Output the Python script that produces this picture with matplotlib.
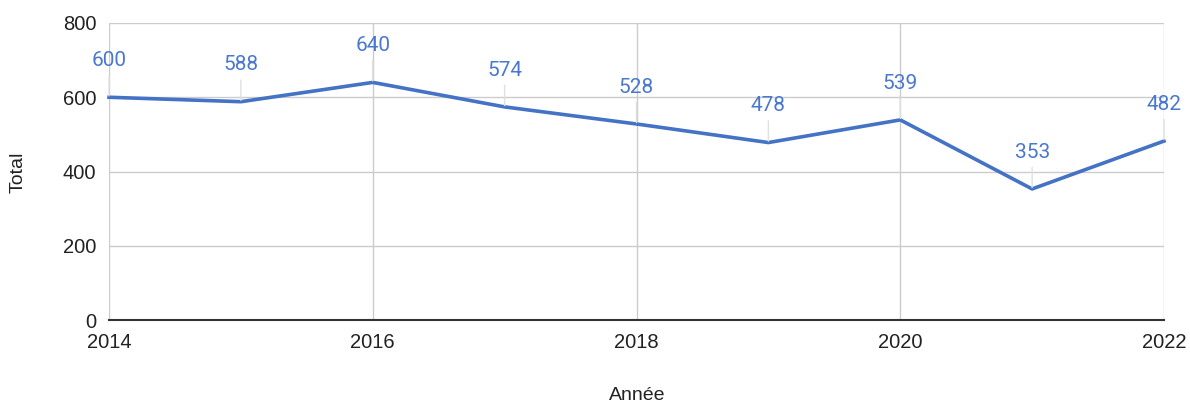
import matplotlib
matplotlib.use("Agg")
import matplotlib.pyplot as plt

years = [2014, 2015, 2016, 2017, 2018, 2019, 2020, 2021, 2022]
totals = [600, 588, 640, 574, 528, 478, 539, 353, 482]
x_ticks = [2014, 2016, 2018, 2020, 2022]
y_ticks = [0, 200, 400, 600, 800]

line_color = "#4472C4"
label_color = "#4a78cf"
text_color = "#222222"

fig = plt.figure(figsize=(11.9, 4.03), dpi=100)
ax = fig.add_axes([109/1190, 1 - 320/403, (1164-109)/1190, (320-23)/403])

ax.plot(years, totals, color=line_color, linewidth=2.6, solid_joinstyle="round", zorder=3, clip_on=False)

for x, y in zip(years, totals):
    ax.annotate(str(y), xy=(x, y), xytext=(0, 22.5), textcoords="offset points",
                ha="center", va="baseline", fontsize=15, color=label_color,
                family="Roboto", annotation_clip=False, zorder=4,
                arrowprops=dict(arrowstyle="-", color="#e0e0e0", lw=1.0,
                                shrinkA=2, shrinkB=1))

ax.set_xlim(2014, 2022)
ax.set_ylim(0, 800)
ax.set_xticks(x_ticks)
ax.set_yticks(y_ticks)
ax.set_xticklabels([str(t) for t in x_ticks], family="Liberation Sans", fontsize=14.5, color=text_color)
ax.set_yticklabels([str(t) for t in y_ticks], family="Liberation Sans", fontsize=14.5, color=text_color)
ax.tick_params(axis="y", length=0, pad=9)
ax.tick_params(axis="x", length=0, pad=9)
ax.grid(True, color="#cccccc", linewidth=1.0)
ax.set_axisbelow(True)
for s in ["top", "right", "left"]:
    ax.spines[s].set_visible(False)
ax.spines["bottom"].set_color("#333333")
ax.spines["bottom"].set_linewidth(1.5)

fig.text(637/1190, 1 - 395/403, "Année", family="Liberation Sans", fontsize=14,
         color=text_color, ha="center", va="center")
fig.text(18/1190, 1 - 172/403, "Total", family="Liberation Sans", fontsize=14,
         color=text_color, ha="center", va="center", rotation=90)

fig.savefig("out.png", dpi=100)
